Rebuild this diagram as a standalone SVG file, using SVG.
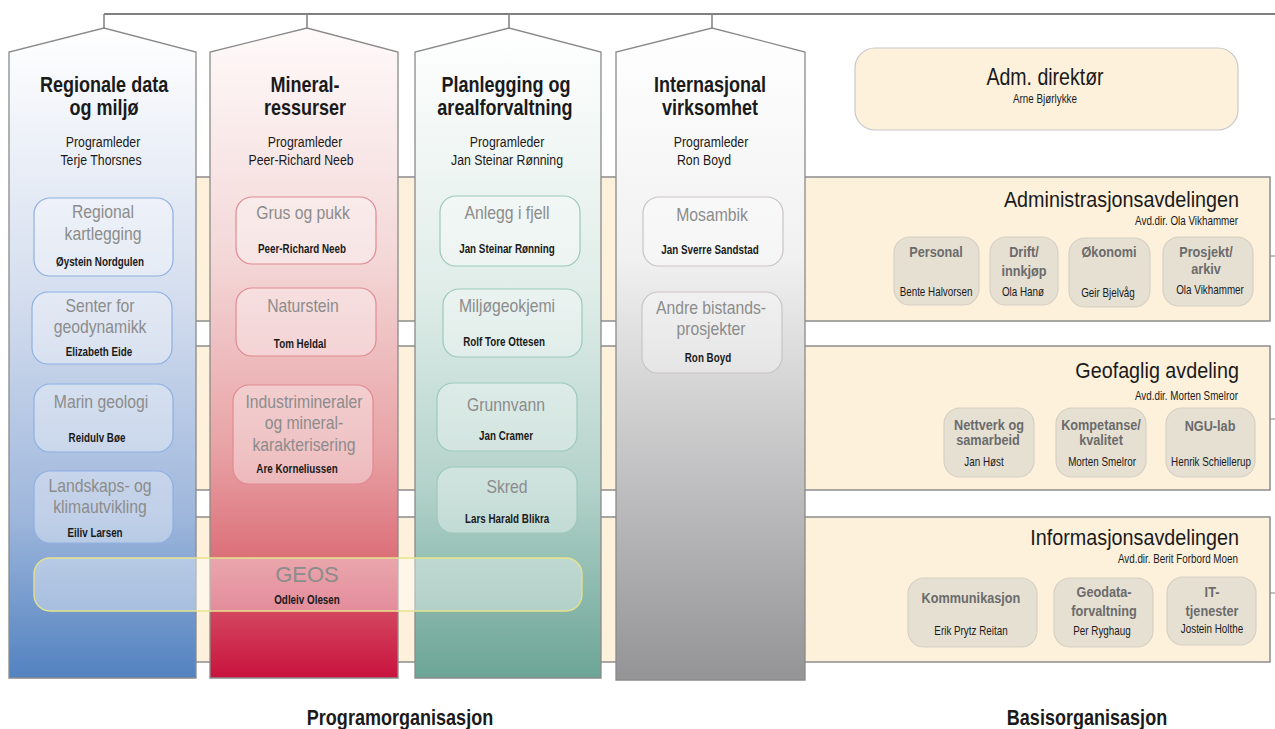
<svg xmlns="http://www.w3.org/2000/svg" width="1275" height="729" viewBox="0 0 1275 729">
<defs>
<linearGradient id="g1" x1="0" y1="28" x2="0" y2="678" gradientUnits="userSpaceOnUse">
<stop offset="0" stop-color="#ffffff"/><stop offset="0.4" stop-color="#d6dfef"/><stop offset="0.75" stop-color="#9fb7dc"/><stop offset="1" stop-color="#5282c0"/>
</linearGradient>
<linearGradient id="g2" x1="0" y1="28" x2="0" y2="678" gradientUnits="userSpaceOnUse">
<stop offset="0" stop-color="#fffafa"/><stop offset="0.35" stop-color="#f4d8d8"/><stop offset="0.65" stop-color="#e8a2a5"/><stop offset="0.82" stop-color="#dc6e78"/><stop offset="1" stop-color="#c8123e"/>
</linearGradient>
<linearGradient id="g3" x1="0" y1="28" x2="0" y2="678" gradientUnits="userSpaceOnUse">
<stop offset="0" stop-color="#ffffff"/><stop offset="0.4" stop-color="#e0ede9"/><stop offset="0.7" stop-color="#b4d3cb"/><stop offset="1" stop-color="#6ca596"/>
</linearGradient>
<linearGradient id="g4" x1="0" y1="28" x2="0" y2="680" gradientUnits="userSpaceOnUse">
<stop offset="0" stop-color="#ffffff"/><stop offset="0.35" stop-color="#f1f1f1"/><stop offset="1" stop-color="#949497"/>
</linearGradient>
<style>
text{font-family:"Liberation Sans",Arial,sans-serif;transform-box:fill-box;transform-origin:50% 50%}
.col{stroke:#8a8a8a;stroke-width:1.3}
.colT{font-weight:bold;font-size:22px;fill:#1a1a1a;text-anchor:middle;transform:scaleX(0.82)}
.pl{font-size:15px;fill:#1a1a1a;text-anchor:middle;transform:scaleX(0.82)}
.box{fill:#ffffff;fill-opacity:0.35;stroke-width:1.2}
.b1{stroke:#8eb0e2}.b2{stroke:#e08a92}.b3{stroke:#9ccab9}.b4{stroke:#cbc3c3}
.bt{font-size:17.5px;fill:#8c8c8c;text-anchor:middle;transform:scaleX(0.9)}
.bn{font-weight:bold;font-size:12px;fill:#1a1a1a;text-anchor:middle;transform:scaleX(0.82)}
.band{fill:#fdf1dc;stroke:#8c8c8c;stroke-width:1.5}
.dept{font-size:21.5px;fill:#1a1a1a;text-anchor:end;transform-origin:100% 50%;transform:scaleX(0.92)}
.dir{font-size:12px;fill:#1a1a1a;text-anchor:end;transform-origin:100% 50%;transform:scaleX(0.82)}
.ub{fill:#e6e0d3;stroke:#d6d0c3;stroke-width:1.2}
.ut{font-weight:bold;font-size:15.5px;fill:#6b6b6b;text-anchor:middle;transform:scaleX(0.82)}
.un{font-size:12px;fill:#1a1a1a;text-anchor:middle;transform:scaleX(0.82)}
.foot{font-weight:bold;font-size:22px;fill:#1a1a1a;text-anchor:middle;transform:scaleX(0.82)}
.conn{stroke:#808080;fill:none}
</style>
</defs>
<rect width="1275" height="729" fill="#ffffff"/>

<g id="connectors">
<path class="conn" stroke-width="2" d="M104,14 H1275"/>
<path class="conn" stroke-width="1.5" d="M104,14 V28 M307,14 V28 M509,14 V28 M712,14 V28"/>
<path class="conn" stroke-width="1" d="M1270,256 H1275 M1270,419 H1275 M1270,593 H1275"/>
</g>

<g id="adm-direktor">
<rect x="855" y="48" width="383" height="82" rx="20" fill="#fdf1dc" stroke="#c8c8c8" stroke-width="1.2"/>
<text x="1045" y="85" font-size="23" fill="#1a1a1a" text-anchor="middle" style="transform:scaleX(0.85)">Adm. direktør</text>
<text x="1045" y="103" class="un" font-size="13.5">Arne Bjørlykke</text>
</g>

<g id="administrasjonsavdelingen">
<rect class="band" x="100" y="177" width="1170" height="144"/>
<text class="dept" x="1239" y="207">Administrasjonsavdelingen</text>
<text class="dir" x="1238" y="225">Avd.dir. Ola Vikhammer</text>
</g>
<g id="geofaglig">
<rect class="band" x="100" y="346" width="1170" height="144"/>
<text class="dept" x="1239" y="378">Geofaglig avdeling</text>
<text class="dir" x="1238" y="400">Avd.dir.  Morten Smelror</text>
</g>
<g id="informasjonsavdelingen">
<rect class="band" x="100" y="517" width="1170" height="145"/>
<text class="dept" x="1239" y="545">Informasjonsavdelingen</text>
<text class="dir" x="1238" y="563">Avd.dir.  Berit Forbord Moen</text>
</g>

<g id="personal"><rect class="ub" x="894" y="237" width="85" height="68" rx="16"/><text class="ut" x="936" y="257">Personal</text><text class="un" x="936" y="296">Bente Halvorsen</text></g>
<g id="drift"><rect class="ub" x="990" y="237" width="68" height="68" rx="16"/><text class="ut" x="1024" y="257">Drift/</text><text class="ut" x="1024" y="276">innkjøp</text><text class="un" x="1023" y="296">Ola Hanø</text></g>
<g id="okonomi"><rect class="ub" x="1069" y="238" width="81" height="69" rx="16"/><text class="ut" x="1109" y="257">Økonomi</text><text class="un" x="1108" y="297">Geir Bjelvåg</text></g>
<g id="prosjekt"><rect class="ub" x="1163" y="237" width="90" height="69" rx="16"/><text class="ut" x="1206" y="257">Prosjekt/</text><text class="ut" x="1206" y="274">arkiv</text><text class="un" x="1210" y="294">Ola Vikhammer</text></g>

<g id="nettverk"><rect class="ub" x="944" y="408" width="90" height="69" rx="16"/><text class="ut" x="989" y="430" font-size="14.5">Nettverk og</text><text class="ut" x="988" y="445" font-size="14.5">samarbeid</text><text class="un" x="984" y="466">Jan Høst</text></g>
<g id="kompetanse"><rect class="ub" x="1056" y="408" width="90" height="69" rx="16"/><text class="ut" x="1101" y="430" font-size="14.5">Kompetanse/</text><text class="ut" x="1101" y="445" font-size="14.5">kvalitet</text><text class="un" x="1102" y="466">Morten Smelror</text></g>
<g id="ngu-lab"><rect class="ub" x="1166" y="408" width="89" height="69" rx="16"/><text class="ut" x="1210" y="431">NGU-lab</text><text class="un" x="1211" y="466">Henrik Schiellerup</text></g>

<g id="kommunikasjon"><rect class="ub" x="908" y="578" width="129" height="69" rx="16"/><text class="ut" x="971" y="603" font-size="14.5">Kommunikasjon</text><text class="un" x="971" y="635">Erik Prytz Reitan</text></g>
<g id="geodata"><rect class="ub" x="1054" y="578" width="99" height="69" rx="16"/><text class="ut" x="1104" y="597">Geodata-</text><text class="ut" x="1104" y="616">forvaltning</text><text class="un" x="1102" y="635">Per Ryghaug</text></g>
<g id="it"><rect class="ub" x="1167" y="577" width="89" height="68" rx="16"/><text class="ut" x="1212" y="597">IT-</text><text class="ut" x="1212" y="616">tjenester</text><text class="un" x="1212" y="633">Jostein Holthe</text></g>

<g id="col-regionale">
<path class="col" fill="url(#g1)" d="M9,678 V52 L104,28 L196,52 V678 Z"/>
<text class="colT" x="104" y="92">Regionale data</text>
<text class="colT" x="104" y="115">og miljø</text>
<text class="pl" x="103" y="147">Programleder</text>
<text class="pl" x="101" y="165">Terje Thorsnes</text>
</g>
<g id="col-mineral">
<path class="col" fill="url(#g2)" d="M210,678 V52 L307,28 L398,52 V678 Z"/>
<text class="colT" x="305" y="92">Mineral-</text>
<text class="colT" x="305" y="115">ressurser</text>
<text class="pl" x="305" y="147">Programleder</text>
<text class="pl" x="301" y="165">Peer-Richard Neeb</text>
</g>
<g id="col-planlegging">
<path class="col" fill="url(#g3)" d="M415,678 V52 L509,28 L601,52 V678 Z"/>
<text class="colT" x="506" y="92">Planlegging og</text>
<text class="colT" x="505" y="115">arealforvaltning</text>
<text class="pl" x="507" y="147">Programleder</text>
<text class="pl" x="507" y="165">Jan Steinar Rønning</text>
</g>
<g id="col-internasjonal">
<path class="col" fill="url(#g4)" d="M616,680 V52 L712,28 L805,52 V680 Z"/>
<text class="colT" x="710" y="92">Internasjonal</text>
<text class="colT" x="710" y="115">virksomhet</text>
<text class="pl" x="711" y="147">Programleder</text>
<text class="pl" x="704" y="165">Ron Boyd</text>
</g>

<g id="regional-kartlegging"><rect class="box b1" x="34" y="198" width="139" height="78" rx="16"/><text class="bt" x="103" y="218">Regional</text><text class="bt" x="103" y="240">kartlegging</text><text class="bn" x="100" y="266">Øystein Nordgulen</text></g>
<g id="senter-geodynamikk"><rect class="box b1" x="32" y="292" width="140" height="72" rx="16"/><text class="bt" x="100" y="312">Senter for</text><text class="bt" x="100" y="333">geodynamikk</text><text class="bn" x="99" y="356">Elizabeth Eide</text></g>
<g id="marin-geologi"><rect class="box b1" x="34" y="384" width="139" height="68" rx="16"/><text class="bt" x="101" y="408">Marin geologi</text><text class="bn" x="97" y="442">Reidulv Bøe</text></g>
<g id="landskaps"><rect class="box b1" x="34" y="471" width="139" height="72" rx="16"/><text class="bt" x="100" y="492">Landskaps- og</text><text class="bt" x="100" y="513">klimautvikling</text><text class="bn" x="95" y="537">Eiliv Larsen</text></g>

<g id="grus-pukk"><rect class="box b2" x="236" y="197" width="140" height="67" rx="16"/><text class="bt" x="303" y="219">Grus og pukk</text><text class="bn" x="302" y="253">Peer-Richard Neeb</text></g>
<g id="naturstein"><rect class="box b2" x="236" y="288" width="140" height="68" rx="16"/><text class="bt" x="303" y="312">Naturstein</text><text class="bn" x="300" y="348">Tom Heldal</text></g>
<g id="industrimineraler"><rect class="box b2" x="233" y="385" width="140" height="99" rx="16"/><text class="bt" x="304" y="408">Industrimineraler</text><text class="bt" x="304" y="429">og mineral-</text><text class="bt" x="304" y="451">karakterisering</text><text class="bn" x="297" y="473">Are Korneliussen</text></g>

<g id="anlegg"><rect class="box b3" x="440" y="196" width="140" height="70" rx="16"/><text class="bt" x="507" y="219">Anlegg i fjell</text><text class="bn" x="507" y="253">Jan Steinar Rønning</text></g>
<g id="miljogeokjemi"><rect class="box b3" x="443" y="289" width="139" height="68" rx="16"/><text class="bt" x="507" y="312">Miljøgeokjemi</text><text class="bn" x="504" y="346">Rolf Tore Ottesen</text></g>
<g id="grunnvann"><rect class="box b3" x="437" y="383" width="140" height="68" rx="16"/><text class="bt" x="506" y="411">Grunnvann</text><text class="bn" x="506" y="440">Jan Cramer</text></g>
<g id="skred"><rect class="box b3" x="437" y="467" width="140" height="66" rx="16"/><text class="bt" x="507" y="493">Skred</text><text class="bn" x="507" y="523">Lars Harald Blikra</text></g>

<g id="mosambik"><rect class="box b4" x="643" y="197" width="140" height="69" rx="16"/><text class="bt" x="712" y="221">Mosambik</text><text class="bn" x="710" y="254">Jan Sverre Sandstad</text></g>
<g id="andre-bistand"><rect class="box b4" x="642" y="292" width="140" height="81" rx="16"/><text class="bt" x="711" y="314">Andre bistands-</text><text class="bt" x="711" y="335">prosjekter</text><text class="bn" x="708" y="362">Ron Boyd</text></g>

<g id="geos">
<rect x="34" y="558" width="548" height="53" rx="16" fill="#ffffff" fill-opacity="0.38" stroke="#e6e38a" stroke-width="1.3"/>
<text x="307" y="582" font-size="22" fill="#8c8c8c" text-anchor="middle">GEOS</text>
<text class="bn" x="307" y="604">Odleiv Olesen</text>
</g>

<text class="foot" x="400" y="725">Programorganisasjon</text>
<text class="foot" x="1087" y="725">Basisorganisasjon</text>
</svg>
